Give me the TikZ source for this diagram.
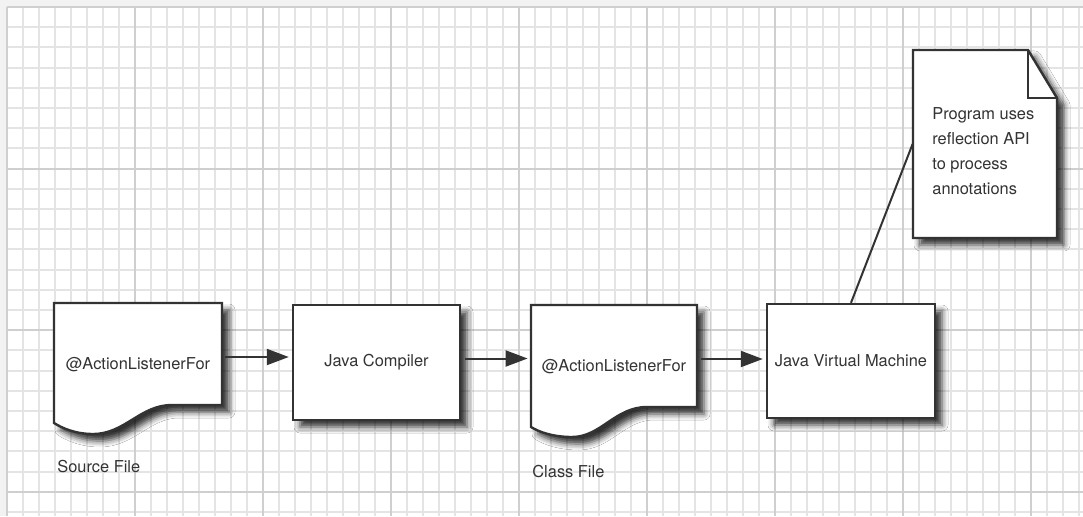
\documentclass[tikz,border=0pt]{standalone}
\usepackage{fontspec}
\setmainfont{TeX Gyre Heros}
\usepackage{tikz}
\usetikzlibrary{arrows.meta,positioning,calc,shadows.blur}
\definecolor{ink}{HTML}{333333}
\definecolor{gridminor}{HTML}{E4E4E4}
\definecolor{gridmajor}{HTML}{CFCFCF}

\begin{document}
\begin{tikzpicture}[x=0.5pt,y=0.5pt,
  font=\fontsize{8.2}{12.5}\selectfont,
  every node/.style={text=ink},
  shade/.style={blur shadow={shadow xshift=3.5pt,shadow yshift=-3.5pt,shadow blur radius=3pt,shadow opacity=80}},
  box/.style={draw=ink,line width=1.2pt,fill=white,shade},
  ghost/.style={inner sep=0pt,minimum width=83pt,minimum height=60pt},
  arr/.style={draw=ink,line width=1pt,-{Triangle[length=11pt,width=8pt]},shorten <=2pt,shorten >=1.5pt}]
\useasboundingbox (0,0) rectangle (1083,516);
% paper
\fill[gray!10] (0,0) rectangle (1083,516);
\fill[white] (7,0) rectangle (1083,509);
\foreach \i in {0,...,67}
  \draw[gridminor,line width=1pt] ({7+16*\i},0) -- ({7+16*\i},509);
\foreach \j in {0,...,25}
  \draw[gridminor,line width=1pt] (7,{509-20.2*\j}) -- (1083,{509-20.2*\j});
\foreach \i in {0,...,8}
  \draw[gridmajor,line width=1pt] ({7+128*\i},0) -- ({7+128*\i},509);
\foreach \j in {0,...,3}
  \draw[gridmajor,line width=1pt] (7,{509-161.6*\j}) -- (1083,{509-161.6*\j});

% source file
\path[box,shift={(54,93)}] (0,120) -- (168,120) -- (168,18) -- (118,18)
  .. controls (86,18) and (71,-11) .. (39,-11)
  .. controls (21,-11) and (8,-5) .. (0,0) -- cycle;
\node[ghost] (src) at (138,151) {@ActionListenerFor};
\node[anchor=west,inner sep=0pt] (srclabel) at (57,49) {Source File};

% compiler
\node[box,ghost,minimum width=83.5pt,minimum height=57.5pt] (comp) at (376.5,153.5) {Java Compiler};

% class file
\path[box,shift={(531,89)}] (0,122) -- (166,122) -- (166,20) -- (116,20)
  .. controls (84,20) and (70,-10) .. (41,-10)
  .. controls (22,-10) and (8,-5) .. (0,0) -- cycle;
\node[ghost] (cls) at (614,149) {@ActionListenerFor};
\node[anchor=west,inner sep=0pt] (clslabel) at (532,44) {Class File};

% virtual machine
\node[box,ghost,minimum width=84pt,minimum height=57pt] (jvm) at (851,155) {Java Virtual Machine};

% note
\path[box] (913,278) -- (913,466) -- (1028,466) -- (1057,418) -- (1057,278) -- cycle;
\draw[ink,line width=1.2pt] (1028,466) -- (1028,418) -- (1057,418);
\node[inner sep=0pt,minimum width=72pt,minimum height=94pt] (note) at (985,372) {};
\node[anchor=north west,inner sep=0pt,align=left] (notetext) at (932,409)
  {Program uses\\reflection API\\to process\\annotations};

% connectors
\draw[arr] ([yshift=4pt]src.east) -- ([yshift=4pt]src.east -| comp.west);
\draw[arr] ([yshift=2pt]comp.east) -- ([yshift=2pt]comp.east -| cls.west);
\draw[arr] ([yshift=4pt]cls.east) -- ([yshift=4pt]cls.east -| jvm.west);
\draw[ink,line width=1pt] (jvm.north) -- (note.west);
\end{tikzpicture}
\end{document}
